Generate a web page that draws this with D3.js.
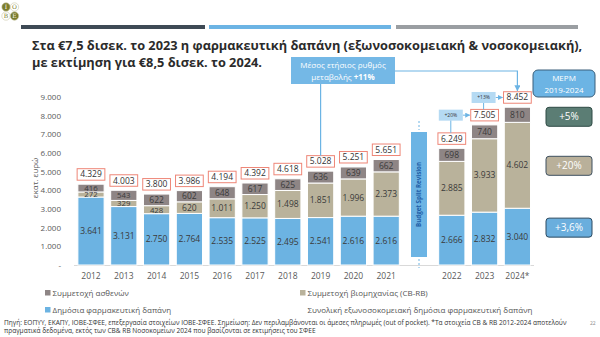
<!DOCTYPE html>
<html>
<head>
<meta charset="utf-8">
<script src="https://cdn.jsdelivr.net/npm/d3@7/dist/d3.min.js"></script>
<style>
  body { margin: 0; background: #fff; }
  svg { display: block; }
</style>
</head>
<body>
<div id="chart"></div>
<script>
// data (εκατ. ευρώ)
const years = ["2012", "2013", "2014", "2015", "2016", "2017", "2018", "2019", "2020", "2021", "2022", "2023", "2024*"];
const publicSpend = [3641, 3131, 2750, 2764, 2535, 2525, 2495, 2541, 2616, 2616, 2666, 2832, 3040];
const industry = [272, 329, 428, 620, 1011, 1250, 1498, 1851, 1996, 2373, 2885, 3933, 4602];
const patients = [416, 543, 622, 602, 648, 617, 625, 636, 639, 662, 698, 740, 810];
const totals = [4329, 4003, 3800, 3986, 4194, 4392, 4618, 5028, 5251, 5651, 6249, 7505, 8452];
const yTicks = [0, 1000, 2000, 3000, 4000, 5000, 6000, 7000, 8000, 9000];
const growth = [{from: "2022", to: "2023", label: "+20%"}, {from: "2023", to: "2024*", label: "+13%"}];
const cagr = {patients: "+5%", industry: "+20%", publicSpend: "+3,6%"};

const W = 600, H = 337;
const colors = {publicSpend: "#6cb3e2", industry: "#b9b29b", patients: "#8e8585"};
const accent = "#6cb4e4";
const font = "'Open Sans', 'Noto Sans', sans-serif";

const gr = d3.formatLocale({decimal: ",", thousands: ".", grouping: [3], currency: ["€", ""]});
const fmt = gr.format(",d");

const svg = d3.select("#chart").append("svg")
  .attr("width", W)
  .attr("height", H)
  .style("font-family", font);

svg.append("defs").append("marker")
  .attr("id", "arrow")
  .attr("viewBox", "0 0 10 10")
  .attr("refX", 9)
  .attr("refY", 5)
  .attr("markerWidth", 5)
  .attr("markerHeight", 5)
  .attr("orient", "auto")
  .append("path")
  .attr("d", "M0,0 L10,5 L0,10 Z")
  .attr("fill", accent);

function fitText(sel, width) {
  const len = sel.node().getComputedTextLength();
  const fs = parseFloat(sel.attr("font-size"));
  sel.attr("font-size", fs * width / len);
  return fs * width / len;
}

// header: logo + three bars
const logo = [
  {x: 6, y: 7, t: "I", fill: "#7b7c2b", c: "#fff"},
  {x: 14.5, y: 7, t: "O", fill: "#fff", c: "#7b7c2b"},
  {x: 6, y: 16, t: "B", fill: "#fff", c: "#7b7c2b"},
  {x: 14.5, y: 16, t: "E", fill: "#7b7c2b", c: "#fff"}
];
logo.forEach(d => {
  svg.append("circle").attr("cx", d.x).attr("cy", d.y).attr("r", 4.2)
    .attr("fill", d.fill).attr("stroke", "#c9c7a8").attr("stroke-width", 0.6);
  svg.append("text").attr("x", d.x).attr("y", d.y + 2.2).attr("text-anchor", "middle")
    .attr("font-size", 6).attr("font-family", "'DejaVu Serif', serif").attr("fill", d.c).text(d.t);
});
[["#3e4a55", 21, 205], ["#6cb4e4", 209, 391], ["#9a9ea2", 396, 578]].forEach(b => {
  svg.append("rect").attr("x", b[1]).attr("y", 25).attr("width", b[2] - b[1]).attr("height", 4).attr("fill", b[0]);
});

// title
const t1 = svg.append("text").attr("x", 32).attr("y", 50)
  .attr("font-size", 13).attr("font-weight", "bold").attr("fill", "#2b2b2b")
  .text("Στα €7,5 δισεκ. το 2023 η φαρμακευτική δαπάνη (εξωνοσοκομειακή & νοσοκομειακή),");
const titleSize = fitText(t1, 551);
svg.append("text").attr("x", 32).attr("y", 67)
  .attr("font-size", titleSize).attr("font-weight", "bold").attr("fill", "#2b2b2b")
  .text("με εκτίμηση για €8,5 δισεκ. το 2024.");

// scales
const slots = [...years.slice(0, 10), "split", ...years.slice(10)];
const x = d3.scaleBand().domain(slots).range([74.6, 533.8]).paddingInner(0.2).paddingOuter(0.1);
const y = d3.scaleLinear().domain([0, 9000]).range([265, 97]);
const bw = x.bandwidth();
const cx = k => x(k) + bw / 2;

// axes
const yAxis = svg.append("g").attr("transform", "translate(64,0)")
  .call(d3.axisLeft(y).tickValues(yTicks).tickSize(0).tickPadding(3)
    .tickFormat(d => d === 0 ? "-" : fmt(d)));
yAxis.select(".domain").remove();
yAxis.selectAll("text").attr("font-size", 8).attr("fill", "#595959").attr("font-family", font);

svg.append("text")
  .attr("transform", "translate(38,178) rotate(-90)")
  .attr("text-anchor", "middle").attr("font-size", 8).attr("fill", "#595959")
  .text("εκατ. ευρώ");

svg.append("line").attr("x1", 74).attr("x2", 534).attr("y1", y(0) + 0.5).attr("y2", y(0) + 0.5)
  .attr("stroke", "#d9d9d9");

const xAxis = svg.append("g").attr("transform", `translate(0,${y(0) + 5})`)
  .call(d3.axisBottom(x).tickValues(years).tickSize(0).tickPadding(3));
xAxis.select(".domain").remove();
xAxis.selectAll("text").attr("font-size", 8.5).attr("fill", "#595959").attr("font-family", font);

// stacked bars
const rows = years.map((yr, i) => ({year: yr, publicSpend: publicSpend[i], industry: industry[i], patients: patients[i], total: totals[i]}));
const keys = ["publicSpend", "industry", "patients"];
const stack = d3.stack().keys(keys)(rows);

const layer = svg.append("g").selectAll("g").data(stack).join("g")
  .attr("fill", d => colors[d.key]);
layer.selectAll("rect").data(d => d).join("rect")
  .attr("x", d => x(d.data.year))
  .attr("width", bw)
  .attr("y", d => y(d[1]))
  .attr("height", d => y(d[0]) - y(d[1]))
  .attr("stroke", "#fff")
  .attr("stroke-width", 1);

const labels = svg.append("g").selectAll("g").data(stack).join("g");
labels.selectAll("text").data(d => d.map(v => ({v, key: d.key}))).join("text")
  .attr("x", d => cx(d.v.data.year))
  .attr("y", d => (y(d.v[0]) + y(d.v[1])) / 2 + 3)
  .attr("text-anchor", "middle")
  .attr("font-size", d => (y(d.v[0]) - y(d.v[1])) < 11 ? 7.8 : 8.5)
  .attr("fill", "#3a3a3a")
  .text(d => fmt(d.v.data[d.key]));

// total boxes
const boxH = 11.5, boxW = bw + 1.5;
const boxTop = r => y(r.total) - 4 - boxH;
const totalG = svg.append("g").selectAll("g").data(rows).join("g");
totalG.append("rect")
  .attr("x", d => cx(d.year) - boxW / 2)
  .attr("y", d => boxTop(d))
  .attr("width", boxW)
  .attr("height", boxH)
  .attr("fill", "#fff")
  .attr("stroke", "#ee8677")
  .attr("stroke-width", 1);
totalG.append("text")
  .attr("x", d => cx(d.year))
  .attr("y", d => boxTop(d) + boxH / 2 + 3)
  .attr("text-anchor", "middle")
  .attr("font-size", 8.5)
  .attr("fill", "#333")
  .text(d => fmt(d.total));

// budget split revision
const sx = cx("split");
svg.append("rect").attr("x", sx - 8).attr("y", 132).attr("width", 16).attr("height", 125).attr("fill", accent);
svg.append("text").attr("transform", `translate(${sx + 2.2},194.5) rotate(-90)`)
  .attr("text-anchor", "middle").attr("font-size", 6.2).attr("font-weight", "bold").attr("fill", "#1f5fa8")
  .text("Budget Split Revision");
[[121, 130], [259, 268]].forEach(s => {
  svg.append("line").attr("x1", sx).attr("x2", sx).attr("y1", s[0]).attr("y2", s[1])
    .attr("stroke", accent).attr("stroke-dasharray", "2,2");
});

// year-on-year growth markers
const rowOf = k => rows.find(r => r.year === k);
growth.forEach(g => {
  const a = rowOf(g.from), b = rowOf(g.to);
  const my = boxTop(b) + boxH / 2;
  const gx = cx(g.from) - 1;
  svg.append("line").attr("x1", gx).attr("x2", gx).attr("y1", my + 5).attr("y2", boxTop(a))
    .attr("stroke", accent).attr("stroke-width", 1);
  svg.append("line").attr("x1", gx + 12).attr("x2", cx(g.to) - boxW / 2 - 1).attr("y1", my).attr("y2", my)
    .attr("stroke", accent).attr("stroke-width", 1).attr("marker-end", "url(#arrow)");
  svg.append("rect").attr("x", gx - 12).attr("y", my - 5.5).attr("width", 24).attr("height", 11)
    .attr("fill", "#b5daf3");
  svg.append("text").attr("x", gx).attr("y", my + 2).attr("text-anchor", "middle")
    .attr("font-size", 5).attr("fill", "#333").text(g.label);
});

// average growth 2019-2024 callout
const r19 = rowOf("2019"), r24 = rowOf("2024*");
svg.append("line").attr("x1", cx("2019")).attr("x2", cx("2019")).attr("y1", 84).attr("y2", boxTop(r19))
  .attr("stroke", accent).attr("stroke-width", 1.2);
svg.append("path")
  .attr("d", `M395,71 H${cx("2024*")} V${boxTop(r24) - 1}`)
  .attr("fill", "none").attr("stroke", accent).attr("stroke-width", 1.2).attr("marker-end", "url(#arrow)");
svg.append("rect").attr("x", 291).attr("y", 57).attr("width", 104).attr("height", 27).attr("fill", "#74b8e6");
svg.append("text").attr("x", 343).attr("y", 68).attr("text-anchor", "middle").attr("font-size", 8).attr("fill", "#fff")
  .text("Μέσος ετήσιος ρυθμός");
const t2 = svg.append("text").attr("x", 343).attr("y", 79.5).attr("text-anchor", "middle").attr("font-size", 8).attr("fill", "#fff");
t2.append("tspan").text("μεταβολής ");
t2.append("tspan").attr("font-weight", "bold").text("+11%");

// ΜΕΡΜ panel
svg.append("rect").attr("x", 533).attr("y", 70).attr("width", 62).attr("height", 27).attr("rx", 5)
  .attr("fill", "#6cb4e4").attr("stroke", "#3b5f7a").attr("stroke-width", 1);
svg.append("text").attr("x", 564).attr("y", 81).attr("text-anchor", "middle").attr("font-size", 8).attr("fill", "#fff").text("ΜΕΡΜ");
svg.append("text").attr("x", 564).attr("y", 92.5).attr("text-anchor", "middle").attr("font-size", 8).attr("fill", "#fff").text("2019-2024");

const last = stack.map(s => ({key: s.key, d: s[s.length - 1]}));
const cagrStyle = {
  patients: {fill: "#5b7d74", stroke: "#2f4b45", dy: 2},
  industry: {fill: "#b9b09a", stroke: "#3e5060", dy: 0.5},
  publicSpend: {fill: "#6aaedd", stroke: "#2c4a60", dy: -9}
};
last.forEach(l => {
  const st = cagrStyle[l.key];
  const my = (y(l.d[0]) + y(l.d[1])) / 2 + st.dy;
  svg.append("rect").attr("x", 546).attr("y", my - 9.5).attr("width", 46).attr("height", 19).attr("rx", 3)
    .attr("fill", st.fill).attr("stroke", st.stroke).attr("stroke-width", 1);
  svg.append("text").attr("x", 569).attr("y", my + 3.5).attr("text-anchor", "middle")
    .attr("font-size", 10).attr("fill", "#fff").text(cagr[l.key]);
});

// legend
const legend = [
  {label: "Συμμετοχή ασθενών", color: colors.patients, x: 45, y: 293},
  {label: "Συμμετοχή βιομηχανίας (CB-RB)", color: colors.industry, x: 300, y: 293},
  {label: "Δημόσια φαρμακευτική δαπάνη", color: colors.publicSpend, x: 45, y: 310},
  {label: "Συνολική εξωνοσοκομειακή δημόσια φαρμακευτική δαπάνη", color: null, x: 300, y: 310}
];
const lg = svg.append("g").selectAll("g").data(legend).join("g");
lg.filter(d => d.color).append("rect").attr("x", d => d.x).attr("y", d => d.y - 3).attr("width", 5.5).attr("height", 5.5)
  .attr("fill", d => d.color);
lg.append("text").attr("x", d => d.x + 7.5).attr("y", d => d.y + 2.8).attr("font-size", 8).attr("fill", "#555")
  .text(d => d.label);

// footer
const f1 = svg.append("text").attr("x", 4).attr("y", 325).attr("font-size", 5.6).attr("fill", "#333")
  .text("Πηγή: ΕΟΠΥΥ, ΕΚΑΠΥ, ΙΟΒΕ-ΣΦΕΕ, επεξεργασία στοιχείων ΙΟΒΕ-ΣΦΕΕ. Σημείωση: Δεν περιλαμβάνονται οι άμεσες πληρωμές (out of pocket). *Τα στοιχεία CB & RB 2012-2024 αποτελούν");
const fs = fitText(f1, 562);
svg.append("text").attr("x", 4).attr("y", 333).attr("font-size", fs).attr("fill", "#333")
  .text("πραγματικά δεδομένα, εκτός των CB& RB Νοσοκομείων 2024 που βασίζονται σε εκτιμήσεις του ΣΦΕΕ");
svg.append("text").attr("x", 590).attr("y", 325).attr("font-size", 5).attr("fill", "#888").text("22");
</script>
</body>
</html>
